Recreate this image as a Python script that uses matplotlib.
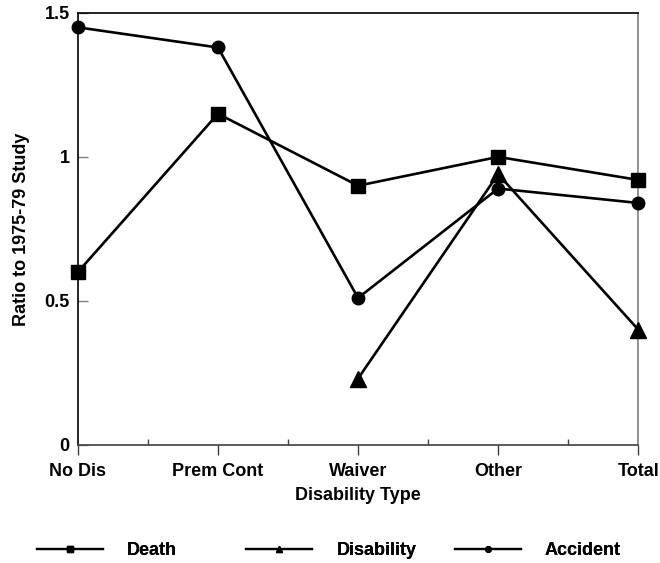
import numpy as np
import matplotlib
matplotlib.use("Agg")
import matplotlib.pyplot as plt
from matplotlib.ticker import MultipleLocator

categories = ["No Dis", "Prem Cont", "Waiver", "Other", "Total"]
death = [0.60, 1.15, 0.90, 1.00, 0.92]
disability = [np.nan, np.nan, 0.23, 0.94, 0.40]
accident = [1.45, 1.38, 0.51, 0.89, 0.84]

plt.rcParams["font.family"] = ["Liberation Sans", "DejaVu Sans"]
plt.rcParams["font.weight"] = "bold"
FS = 13

fig = plt.figure(figsize=(6.6, 5.63), dpi=100)
ax = fig.add_axes([0.118, 0.21, 0.849, 0.767])

x = np.arange(len(categories))
lw = 1.9
ax.plot(x, death, "-", color="black", lw=lw, marker="s", ms=10, zorder=3, clip_on=False)
ax.plot(x, disability, "-", color="black", lw=lw, marker="^", ms=11, zorder=3, clip_on=False)
ax.plot(x, accident, "-", color="black", lw=lw, marker="o", ms=9, zorder=3, clip_on=False)

ax.set_xlim(0, len(categories) - 1)
ax.set_ylim(0, 1.5)
ax.set_xticks(x)
ax.set_xticklabels(categories, fontsize=FS, fontweight="bold")
ax.xaxis.set_minor_locator(MultipleLocator(0.5))
ax.set_yticks([0, 0.5, 1, 1.5])
ax.set_yticklabels(["0", "0.5", "1", "1.5"], fontsize=FS, fontweight="bold")

ax.tick_params(axis="x", which="major", direction="out", length=7, width=1, color="#404040", pad=6)
ax.tick_params(axis="x", which="minor", direction="in", length=4, width=1, color="#404040")
ax.tick_params(axis="y", which="major", direction="in", length=7, width=1, color="#808080", pad=6)

for side, col in [("left", "black"), ("top", "black"), ("bottom", "#404040"), ("right", "#808080")]:
    ax.spines[side].set_color(col)
    ax.spines[side].set_linewidth(1.2)

ax.set_xlabel("Disability Type", fontsize=FS, fontweight="bold", labelpad=5)
ax.set_ylabel("Ratio to 1975-79 Study", fontsize=FS, fontweight="bold", labelpad=10)

# legend: one entry per block along the bottom
entries = [
    ("Death", "s", 5, 0.056),
    ("Disability", "^", 5, 0.373),
    ("Accident", "o", 4, 0.689),
]
for label, mk, ms, xpos in entries:
    h = plt.Line2D([], [], color="black", lw=1.6, marker=mk, ms=ms)
    leg = fig.legend([h], [label], loc="center left", bbox_to_anchor=(xpos, 0.022),
                     frameon=False, borderpad=0, borderaxespad=0,
                     prop={"size": FS, "weight": "bold"}, handlelength=3.66,
                     handletextpad=1.33)
    fig.add_artist(leg)

fig.savefig("out.png", dpi=100)
